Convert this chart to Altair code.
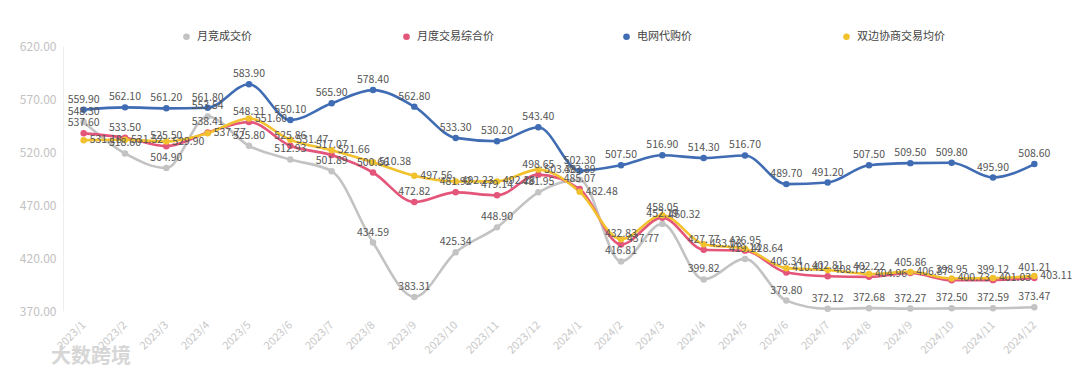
import altair as alt
import pandas as pd

months = ["2023/1", "2023/2", "2023/3", "2023/4", "2023/5", "2023/6", "2023/7", "2023/8",
          "2023/9", "2023/10", "2023/11", "2023/12", "2024/1", "2024/2", "2024/3", "2024/4",
          "2024/5", "2024/6", "2024/7", "2024/8", "2024/9", "2024/10", "2024/11", "2024/12"]

grey_vals = [548.30, 518.60, 504.90, 553.54, 525.80, 512.93, 501.89, 434.59,
             383.31, 425.34, 448.90, 481.95, 493.89, 416.81, 452.19, 399.82,
             419.14, 379.80, 372.12, 372.68, 372.27, 372.50, 372.59, 373.47]
red_vals = [537.60, 533.50, 525.50, 538.41, 548.31, 525.86, 517.07, 500.66,
            472.82, 481.92, 479.14, 498.65, 485.07, 432.83, 458.05, 427.77,
            426.95, 406.34, 402.81, 402.22, 405.86, 398.95, 399.12, 401.21]
blue_vals = [559.90, 562.10, 561.20, 561.80, 583.90, 550.10, 565.90, 578.40,
             562.80, 533.30, 530.20, 543.40, 502.30, 507.50, 516.90, 514.30,
             516.70, 489.70, 491.20, 507.50, 509.50, 509.80, 495.90, 508.60]
yellow_vals = [531.18, 531.52, 529.90, 537.77, 551.60, 531.47, 521.66, 510.38,
               497.56, 492.23, 492.28, 503.38, 482.48, 437.77, 460.32, 433.03,
               428.64, 410.41, 408.73, 404.96, 406.87, 400.73, 401.03, 403.11]

series_names = ["月竞成交价", "月度交易综合价", "电网代购价", "双边协商交易均价"]
series_colors = ["#C3C3C3", "#E4557A", "#3F6CB3", "#F2C12E"]
y_ticks = [370, 420, 470, 520, 570, 620]

rows = []
for name, vals in zip(series_names, [grey_vals, red_vals, blue_vals, yellow_vals]):
    for m, v in zip(months, vals):
        rows.append({"month": m, "series": name, "value": v, "label": f"{v:.2f}"})
df = pd.DataFrame(rows)

FONT = "Noto Sans CJK SC"
color_of = dict(zip(series_names, series_colors))

x_enc = alt.X("month:N", sort=months, title=None,
              axis=alt.Axis(labelAngle=-45, labelAlign="right", labelBaseline="middle",
                            labelPadding=12, labelColor="#c8c8c8", labelFontSize=11,
                            labelFont=FONT, domain=False, ticks=False, grid=False))
y_enc = alt.Y("value:Q", title=None,
              scale=alt.Scale(domain=[370, 620], nice=False, zero=False),
              axis=alt.Axis(values=y_ticks, format=".2f", labelColor="#c2c2c2",
                            labelFontSize=12, labelFont=FONT, labelPadding=7,
                            domain=True, domainColor="#eeeeee", ticks=False, grid=False))

color_scale = alt.Scale(domain=series_names, range=series_colors)
legend = alt.Legend(title=None, orient="none", legendX=118, legendY=-15,
                    direction="horizontal", columns=4, gridAlign="all",
                    columnPadding=116, symbolType="circle",
                    symbolSize=44, labelFontSize=11, labelFont=FONT,
                    labelColor="#444444", labelLimit=300, labelOffset=5)

base = alt.Chart(df)

line_layers = []
point_layers = []
label_layers = []
draw_order = ["月竞成交价", "电网代购价", "月度交易综合价", "双边协商交易均价"]
for name in draw_order:
    sub = base.transform_filter(alt.datum.series == name)
    line_layers.append(
        sub.mark_line(strokeWidth=2.6, interpolate="monotone", color=color_of[name]).encode(
            x=x_enc, y=y_enc))
    point_layers.append(
        sub.mark_circle(size=42, opacity=1).encode(
            x=x_enc, y=y_enc,
            color=alt.Color("series:N", scale=color_scale, legend=legend)))
    if name == "双边协商交易均价":
        label_layers.append(
            sub.mark_text(align="left", baseline="middle", dx=6, fontSize=10.5,
                          font=FONT, color="#555555").encode(x=x_enc, y=y_enc, text="label:N"))
    else:
        label_layers.append(
            sub.mark_text(align="center", baseline="alphabetic", dy=-7, fontSize=10.5,
                          font=FONT, color="#555555").encode(x=x_enc, y=y_enc, text="label:N"))

watermark = alt.Chart(pd.DataFrame({"t": ["大数跨境"]})).mark_text(
    align="left", baseline="middle", fontSize=20, fontWeight="bold", font=FONT,
    color="#d6d6d6").encode(text="t:N", x=alt.value(-12), y=alt.value(311))

chart = alt.layer(*line_layers, *point_layers, *label_layers, watermark).properties(
    width=992, height=265,
    padding={"left": 55, "top": 38, "right": 17, "bottom": 59},
    autosize=alt.AutoSizeParams(type="none"),
    background="white",
).configure_view(stroke=None)

chart.save("out.html", embed_options={"renderer": "svg", "actions": False})
